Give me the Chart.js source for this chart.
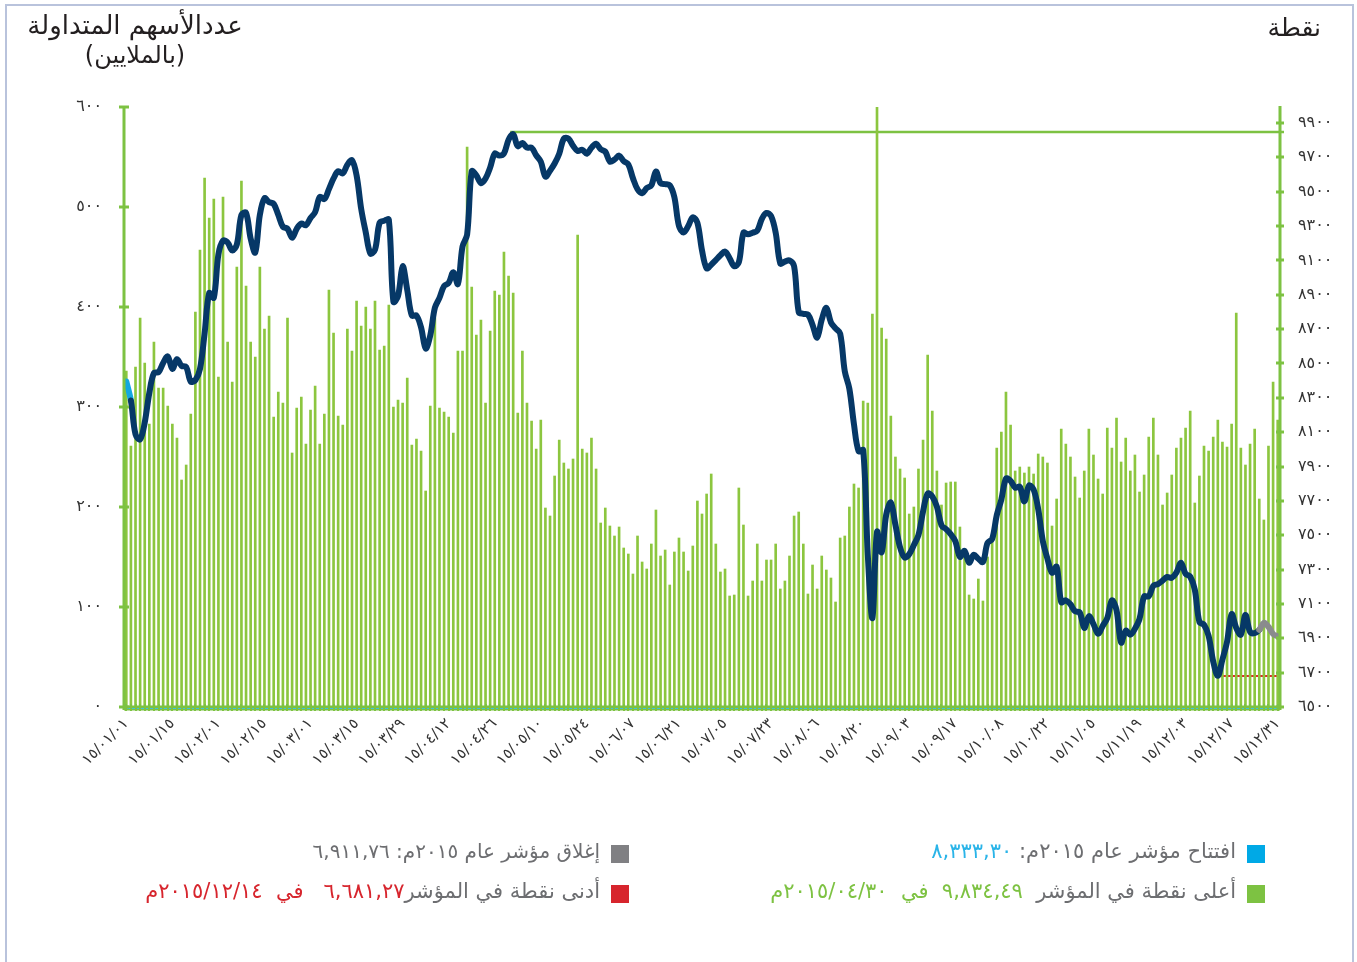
<!DOCTYPE html>
<html><head><meta charset="utf-8">
<script src="https://cdn.jsdelivr.net/npm/chart.js@4.4.1/dist/chart.umd.min.js"></script>
<style>
html,body{margin:0;padding:0;background:#fff;}
#wrap{position:relative;width:1357px;height:962px;overflow:hidden;font-family:"DejaVu Sans","Noto Sans",sans-serif;}
#frame{position:absolute;left:5px;top:4px;width:1349px;height:990px;border:2px solid #b9c3dc;box-sizing:border-box;}
#c{position:absolute;left:0;top:0;}
.t{position:absolute;color:#231f20;white-space:nowrap;}
.lg{position:absolute;white-space:nowrap;font-size:21px;color:#6d6e71;direction:rtl;}
.sq{position:absolute;width:18px;height:18px;}
</style></head>
<body>
<div id="wrap">
<div id="frame"></div>
<canvas id="c" width="1357" height="962"></canvas>
<div class="t" style="left:10px;top:10px;width:250px;text-align:center;direction:rtl;font-size:26px;">عددالأسهم المتداولة</div>
<div class="t" style="left:10px;top:41px;width:250px;text-align:center;direction:rtl;font-size:24px;">(بالملايين)</div>
<div class="t" style="right:36px;top:13px;direction:rtl;font-size:25px;">نقطة</div>

<div class="sq" style="left:1247px;top:845px;background:#00a9e6;"></div>
<div class="lg" style="right:121px;top:839px;">افتتاح مؤشر عام ٢٠١٥م: <span style="color:#2ab4e8">٨,٣٣٣,٣٠</span></div>
<div class="sq" style="left:611px;top:845px;background:#808083;"></div>
<div class="lg" style="right:757px;top:839px;font-size:20px;">إغلاق مؤشر عام ٢٠١٥م: ٦,٩١١,٧٦</div>
<div class="sq" style="left:1247px;top:885px;background:#7dc242;"></div>
<div class="lg" style="right:121px;top:879px;">أعلى نقطة في المؤشر <span style="color:#7dc242">&nbsp;٩,٨٣٤,٤٩&nbsp; في&nbsp; ٢٠١٥/٠٤/٣٠م</span></div>
<div class="sq" style="left:611px;top:885px;background:#d7252d;"></div>
<div class="lg" style="right:757px;top:879px;">أدنى نقطة في المؤشر<span style="color:#d7252d">٦,٦٨١,٢٧&nbsp;&nbsp; في&nbsp; ٢٠١٥/١٢/١٤م</span></div>
</div>
<script>
// ---- data ----
const tickLabels = ['١٥/٠١/٠١','١٥/٠١/١٥','١٥/٠٢/٠١','١٥/٠٢/١٥','١٥/٠٣/٠١','١٥/٠٣/١٥','١٥/٠٣/٢٩','١٥/٠٤/١٢','١٥/٠٤/٢٦','١٥/٠٥/١٠','١٥/٠٥/٢٤','١٥/٠٦/٠٧','١٥/٠٦/٢١','١٥/٠٧/٠٥','١٥/٠٧/٢٣','١٥/٠٨/٠٦','١٥/٠٨/٢٠','١٥/٠٩/٠٣','١٥/٠٩/١٧','١٥/١٠/٠٨','١٥/١٠/٢٢','١٥/١١/٠٥','١٥/١١/١٩','١٥/١٢/٠٣','١٥/١٢/١٧','١٥/١٢/٣١'];
const leftTickLabels = ['٠','١٠٠','٢٠٠','٣٠٠','٤٠٠','٥٠٠','٦٠٠'];
const rightTickValues = [6500,6700,6900,7100,7300,7500,7700,7900,8100,8300,8500,8700,8900,9100,9300,9500,9700,9900];
const rightTickLabels = ['٦٥٠٠','٦٧٠٠','٦٩٠٠','٧١٠٠','٧٣٠٠','٧٥٠٠','٧٧٠٠','٧٩٠٠','٨١٠٠','٨٣٠٠','٨٥٠٠','٨٧٠٠','٨٩٠٠','٩١٠٠','٩٣٠٠','٩٥٠٠','٩٧٠٠','٩٩٠٠'];

// traded shares (millions), one per trading day
const volumes = [
336,261,340,389,344,283,365,319,319,301,
283,269,227,242,293,395,457,529,489,508,
330,510,365,325,440,526,421,365,350,440,
378,391,290,315,304,389,254,299,310,263,
297,321,263,293,417,374,291,282,378,356,
406,381,400,378,406,357,361,402,300,307,
304,329,262,268,256,216,301,389,299,295,
290,274,356,356,560,420,372,387,304,376,
416,412,455,431,414,294,356,304,286,258,
287,199,191,231,267,244,238,248,472,258,
254,269,238,184,199,181,171,180,159,153,
133,171,145,138,163,197,151,157,122,155,
169,155,136,161,206,193,213,233,163,135,
138,111,112,219,182,111,126,163,126,147,
147,163,118,126,151,191,195,163,113,142,
118,151,137,129,105,169,171,200,223,219,
306,304,393,600,379,368,291,250,238,229,
193,200,238,267,352,296,236,202,224,225,
225,180,150,112,108,128,106,150,165,259,
275,315,282,236,240,234,240,233,253,250,
244,181,208,278,263,250,230,209,236,278,
252,228,213,279,259,289,245,269,236,252,
215,232,270,289,252,202,214,232,259,269,
279,296,204,231,261,256,270,287,265,260,
283,394,259,242,263,278,208,187,261,325,
287];

// index points, one per trading day
const indexValues = [
8395,8284,8087,8058,8156,8329,8444,8449,8503,8541,
8468,8525,8486,8479,8394,8403,8468,8675,8910,8882,
9135,9215,9204,9158,9193,9365,9377,9227,9146,9365,
9462,9439,9429,9365,9296,9284,9232,9284,9314,9305,
9347,9381,9469,9457,9515,9577,9619,9607,9657,9683,
9595,9400,9262,9140,9162,9319,9331,9338,8859,8893,
9066,8928,8779,8779,8710,8587,8663,8824,8882,8951,
8969,9031,8962,9181,9250,9619,9595,9550,9577,9641,
9722,9710,9722,9802,9834.49,9765,9784,9756,9756,9712,
9675,9588,9622,9664,9721,9809,9809,9767,9737,9744,
9721,9756,9779,9747,9733,9675,9687,9710,9678,9659,
9579,9514,9491,9521,9537,9618,9549,9544,9537,9468,
9300,9263,9300,9351,9319,9158,9054,9075,9102,9130,
9151,9112,9066,9089,9261,9252,9261,9273,9342,9376,
9358,9261,9082,9093,9100,9066,8799,8789,8785,8725,
8651,8755,8824,8739,8704,8674,8454,8352,8145,7989,
7996,7386,7018,7520,7400,7620,7690,7560,7430,7370,
7390,7443,7501,7639,7743,7726,7667,7558,7535,7506,
7466,7374,7409,7340,7386,7363,7344,7455,7478,7616,
7708,7830,7816,7777,7782,7697,7789,7766,7651,7466,
7363,7282,7317,7110,7121,7098,7057,7052,6960,7029,
6983,6926,6972,7018,7121,7064,6875,6944,6921,6956,
7013,7144,7144,7206,7216,7236,7257,7252,7282,7340,
7275,7259,7183,6995,6979,6914,6765,6681.27,6776,6880,
7041,6960,6921,7036,6937,6930,6949,6990,6967,6925,
6911.76];

const categories = volumes.map((_, i) => (i % 10 === 0 ? tickLabels[i / 10] : ''));

// ---- styles ----
const GREEN = '#7dc242', BAR = '#8cc63f', NAVY = '#063867', CYAN = '#12a8e0', GRAY = '#8a8b8d', RED = '#e0282e';
const FONT = '"DejaVu Sans", "Noto Sans", sans-serif';

const deco = {
  id: 'deco',
  beforeDatasetsDraw(chart) {
    const {ctx, chartArea: a, scales: {x, y2}} = chart;
    ctx.save();
    let maxI = 0, minI = 0;
    indexValues.forEach((v, i) => { if (v > indexValues[maxI]) maxI = i; if (v < indexValues[minI]) minI = i; });
    ctx.lineWidth = 2.5;
    ctx.strokeStyle = GREEN;
    let py = Math.round(y2.getPixelForValue(indexValues[maxI])) - 2;
    ctx.beginPath(); ctx.moveTo(x.getPixelForValue(maxI) - 3, py); ctx.lineTo(a.right + 4, py); ctx.stroke();
    ctx.strokeStyle = RED; ctx.lineWidth = 2;
    py = Math.round(y2.getPixelForValue(indexValues[minI]));
    ctx.beginPath(); ctx.moveTo(x.getPixelForValue(minI), py); ctx.lineTo(a.right, py); ctx.stroke();
    ctx.restore();
  },
  afterDatasetsDraw(chart) {
    const {ctx, chartArea: a, scales: {x, y, y2}} = chart;
    ctx.save();
    // bottom axis
    ctx.strokeStyle = GREEN; ctx.lineWidth = 5;
    ctx.beginPath(); ctx.moveTo(a.left, a.bottom + 1); ctx.lineTo(a.right, a.bottom + 1); ctx.stroke();
    ctx.strokeStyle = '#3cc0e0'; ctx.lineWidth = 1;
    ctx.beginPath(); ctx.moveTo(a.left, a.bottom + 1.5); ctx.lineTo(a.right, a.bottom + 1.5); ctx.stroke();
    ctx.strokeStyle = GREEN; ctx.lineWidth = 2;
    for (let i = 0; i < categories.length; i++) {
      const px = Math.round(x.getPixelForValue(i));
      ctx.beginPath(); ctx.moveTo(px, a.bottom - 3); ctx.lineTo(px, a.bottom + 4); ctx.stroke();
    }
    // left axis
    ctx.strokeStyle = GREEN; ctx.lineWidth = 3;
    ctx.beginPath(); ctx.moveTo(a.left, a.top - 1); ctx.lineTo(a.left, a.bottom + 3); ctx.stroke();
    y.ticks.forEach(t => {
      const p = Math.round(y.getPixelForValue(t.value));
      ctx.beginPath(); ctx.moveTo(a.left - 5, p); ctx.lineTo(a.left + 5, p); ctx.stroke();
    });
    // right axis
    ctx.beginPath(); ctx.moveTo(a.right, a.top - 1); ctx.lineTo(a.right, a.bottom + 3); ctx.stroke();
    y2.ticks.forEach(t => {
      const p = Math.round(y2.getPixelForValue(t.value));
      ctx.beginPath(); ctx.moveTo(a.right - 4, p); ctx.lineTo(a.right + 4, p); ctx.stroke();
    });
    ctx.restore();
  }
};

new Chart(document.getElementById('c'), {
  data: {
    labels: categories,
    datasets: [
      {
        type: 'line', order: 0, yAxisID: 'y2', data: indexValues,
        borderColor: NAVY, borderWidth: 6, pointRadius: 0, tension: 0.35,
        borderCapStyle: 'round', borderJoinStyle: 'round',
        segment: {
          borderColor: c => (c.p0DataIndex < 1 ? CYAN : (c.p0DataIndex >= 246 ? GRAY : NAVY))
        }
      },
      {
        type: 'bar', order: 1, yAxisID: 'y', data: volumes,
        backgroundColor: BAR, barThickness: 2
      }
    ]
  },
  options: {
    responsive: false, animation: false, devicePixelRatio: 1,
    layout: {padding: {top: 107, bottom: 175, left: 0, right: 0}},
    plugins: {legend: {display: false}, tooltip: {enabled: false}},
    scales: {
      x: {
        type: 'category', offset: true,
        grid: {display: false, drawTicks: false}, border: {display: false},
        ticks: {autoSkip: false, maxRotation: 45, minRotation: 45, padding: 8,
          color: '#333', font: {family: FONT, size: 15},
          callback: (v, i) => categories[i]},
        afterFit: s => { s.height = 80; }
      },
      y: {
        position: 'left', min: 0, max: 600,
        grid: {display: false, drawTicks: false}, border: {display: false},
        ticks: {stepSize: 100, padding: 22, color: '#333', font: {family: FONT, size: 16},
          callback: (v, i) => leftTickLabels[i]},
        afterFit: s => { s.width = 124; }
      },
      y2: {
        position: 'right', min: 6500, max: 9993,
        grid: {display: false, drawTicks: false}, border: {display: false},
        afterBuildTicks: s => { s.ticks = rightTickValues.map(v => ({value: v})); },
        ticks: {padding: 18, color: '#333', font: {family: FONT, size: 16},
          callback: (v, i) => rightTickLabels[i]},
        afterFit: s => { s.width = 77; }
      }
    }
  },
  plugins: [deco]
});
</script>
</body></html>
